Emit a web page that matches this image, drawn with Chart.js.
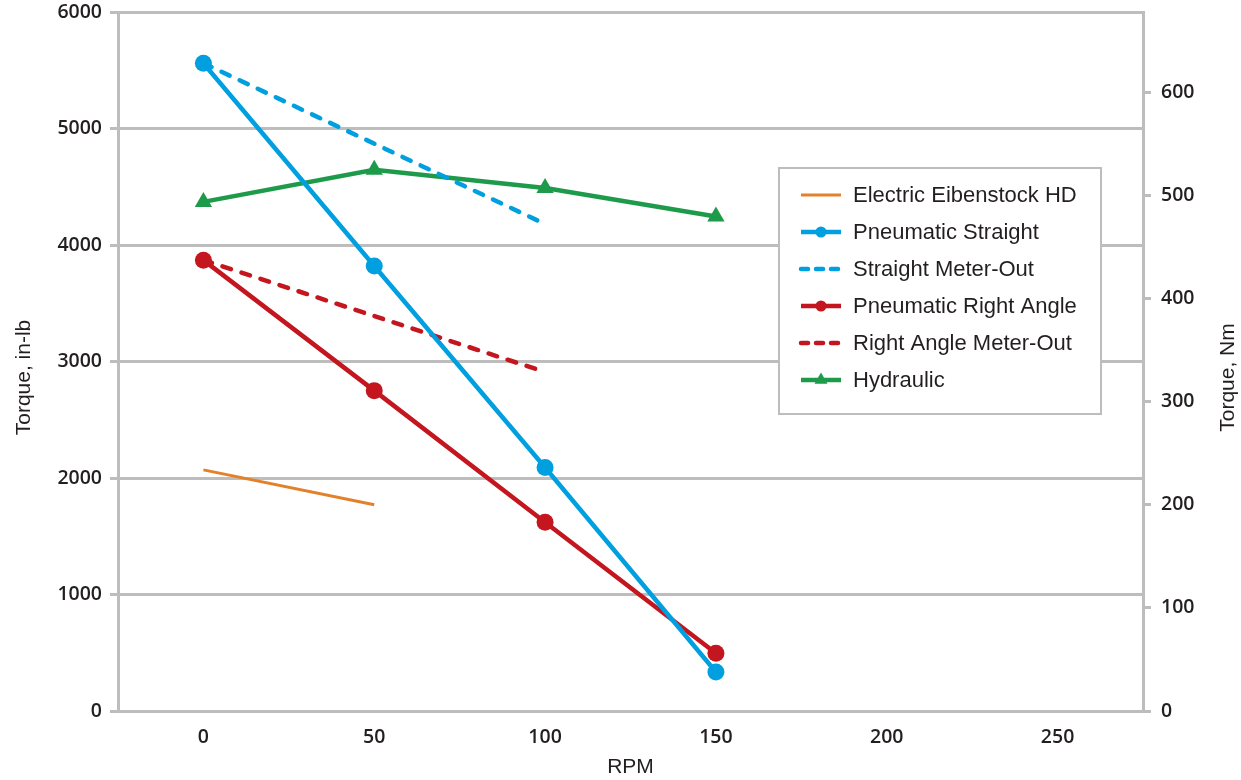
<!DOCTYPE html>
<html>
<head>
<meta charset="utf-8">
<script src="https://cdn.jsdelivr.net/npm/chart.js@4/dist/chart.umd.min.js"></script>
<style>
  html, body { margin: 0; padding: 0; background: #fff; }
  #wrap { width: 1241px; height: 780px; position: relative; }
</style>
</head>
<body>
<div id="wrap"><canvas id="chart"></canvas></div>
<script>
// RPM values for each series
const rpmElectric = [0, 50];
const rpmPneumatic = [0, 50, 100, 150];
const rpmMeterOut = [0, 100];
const rpmHydraulic = [0, 50, 100, 150];

// torque, in-lb
const electricHD = [2070, 1770];
const pneumaticStraight = [5560, 3820, 2090, 335];
const straightMeterOut = [5560, 4180];
const pneumaticRightAngle = [3870, 2750, 1620, 495];
const rightAngleMeterOut = [3870, 2910];
const hydraulic = [4370, 4645, 4490, 4245];

const xTicks = [0, 50, 100, 150, 200, 250];
const nmTicks = [0, 100, 200, 300, 400, 500, 600];
const IN_LB_PER_NM = 8.8507;

const GRID = '#BDBDBD';
const TEXT = '#231F20';
const TICK_FONT = { family: '"Open Sans", sans-serif', size: 19.5, weight: '600' };

const pts = (xs, ys) => xs.map((x, i) => ({ x, y: ys[i] }));
const plain = (v) => String(v);

// legend box + the two rotated axis titles
const overlay = {
  id: 'overlay',
  afterDraw(chart) {
    const c = chart.ctx;
    const area = chart.chartArea;
    c.save();
    c.font = '21px "Liberation Sans", sans-serif';
    c.fillStyle = TEXT;
    c.textAlign = 'center';
    c.textBaseline = 'middle';
    const midY = (area.top + area.bottom) / 2 + 16;
    c.save();
    c.translate(24, midY);
    c.rotate(-Math.PI / 2);
    c.fillText('Torque, in-lb', 0, 0);
    c.restore();
    c.save();
    c.translate(area.right + 85, midY);
    c.rotate(-Math.PI / 2);
    c.fillText('Torque, Nm', 0, 0);
    c.restore();

    // legend
    const bx = 779, by = 168, bw = 322, bh = 246;
    c.fillStyle = '#fff';
    c.fillRect(bx, by, bw, bh);
    c.lineWidth = 2;
    c.strokeStyle = GRID;
    c.strokeRect(bx, by, bw, bh);
    c.font = '22px "Liberation Sans", sans-serif';
    c.textAlign = 'left';
    chart.data.datasets.forEach((ds, i) => {
      const y = by + 27 + i * 37;
      c.save();
      c.strokeStyle = ds.borderColor;
      c.lineWidth = ds.borderWidth;
      c.lineCap = ds.borderDash ? 'round' : 'butt';
      c.setLineDash(ds.borderDash ? [7, 8] : []);
      c.beginPath();
      c.moveTo(bx + 22, y);
      c.lineTo(bx + 62, y);
      c.stroke();
      c.setLineDash([]);
      c.fillStyle = ds.borderColor;
      if (ds.pointRadius > 0) {
        const mx = bx + 42;
        c.beginPath();
        if (ds.pointStyle === 'triangle') {
          const r = 7.5;
          c.moveTo(mx, y - r);
          c.lineTo(mx + r * 0.866, y + r * 0.5);
          c.lineTo(mx - r * 0.866, y + r * 0.5);
          c.closePath();
        } else {
          c.arc(mx, y, 5.5, 0, Math.PI * 2);
        }
        c.fill();
      }
      c.restore();
      c.fillStyle = TEXT;
      c.fillText(ds.label, bx + 74, y + 1);
    });
    c.restore();
  }
};

new Chart(document.getElementById('chart'), {
  type: 'line',
  data: {
    datasets: [
      {
        label: 'Electric Eibenstock HD',
        data: pts(rpmElectric, electricHD),
        borderColor: '#E3812B', backgroundColor: '#E3812B',
        borderWidth: 3, pointRadius: 0
      },
      {
        label: 'Pneumatic Straight',
        data: pts(rpmPneumatic, pneumaticStraight),
        borderColor: '#00A0E0', backgroundColor: '#00A0E0',
        borderWidth: 4.5, pointRadius: 8.5, pointBorderWidth: 0
      },
      {
        label: 'Straight Meter-Out',
        data: pts(rpmMeterOut, straightMeterOut),
        borderColor: '#00A0E0', backgroundColor: '#00A0E0',
        borderWidth: 4.5, pointRadius: 0, borderDash: [9, 11], borderCapStyle: 'round'
      },
      {
        label: 'Pneumatic Right Angle',
        data: pts(rpmPneumatic, pneumaticRightAngle),
        borderColor: '#C3161E', backgroundColor: '#C3161E',
        borderWidth: 4.5, pointRadius: 8.5, pointBorderWidth: 0
      },
      {
        label: 'Right Angle Meter-Out',
        data: pts(rpmMeterOut, rightAngleMeterOut),
        borderColor: '#C3161E', backgroundColor: '#C3161E',
        borderWidth: 4.5, pointRadius: 0, borderDash: [9, 11], borderCapStyle: 'round'
      },
      {
        label: 'Hydraulic',
        data: pts(rpmHydraulic, hydraulic),
        borderColor: '#1E9A4B', backgroundColor: '#1E9A4B',
        borderWidth: 4.5, pointRadius: 10, pointStyle: 'triangle', pointBorderWidth: 0
      }
    ]
  },
  options: {
    responsive: true,
    maintainAspectRatio: false,
    animation: false,
    layout: { padding: { top: 12, left: 0, right: 0, bottom: 0 } },
    plugins: {
      legend: { display: false },
      tooltip: { enabled: false }
    },
    scales: {
      x: {
        type: 'linear',
        min: -25,
        max: 275,
        afterBuildTicks: (axis) => { axis.ticks = xTicks.map(v => ({ value: v })); },
        afterFit: (axis) => { axis.height = 69; axis.paddingLeft = 0; axis.paddingRight = 0; },
        grid: { drawOnChartArea: false, drawTicks: false },
        border: { display: false },
        ticks: { color: TEXT, font: TICK_FONT, padding: 15, maxRotation: 0, callback: plain },
        title: {
          display: true, text: 'RPM', color: TEXT,
          font: { family: '"Liberation Sans", sans-serif', size: 21 },
          padding: { top: 0, bottom: 0 }
        }
      },
      y: {
        position: 'left',
        min: 0,
        max: 6000,
        afterFit: (axis) => { axis.width = 118; axis.paddingTop = 0; axis.paddingBottom = 0; },
        grid: { color: GRID, lineWidth: 3, tickLength: 8 },
        border: { display: true, color: GRID, width: 3 },
        ticks: { stepSize: 1000, color: TEXT, font: TICK_FONT, padding: 8, callback: plain }
      },
      nm: {
        position: 'right',
        min: 0,
        max: 6000 / IN_LB_PER_NM,
        afterBuildTicks: (axis) => { axis.ticks = nmTicks.map(v => ({ value: v })); },
        afterFit: (axis) => { axis.width = 98; axis.paddingTop = 0; axis.paddingBottom = 0; },
        grid: { drawOnChartArea: false, color: GRID, lineWidth: 3, tickLength: 8 },
        border: { display: true, color: GRID, width: 3 },
        ticks: { color: TEXT, font: TICK_FONT, padding: 10, callback: plain }
      }
    }
  },
  plugins: [overlay]
});
</script>
</body>
</html>
